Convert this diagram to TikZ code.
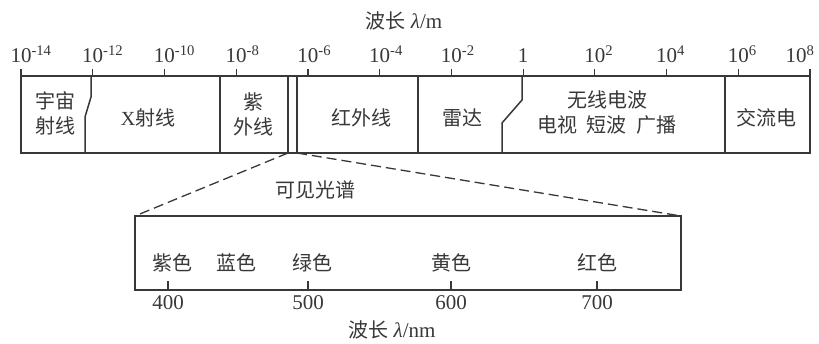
\documentclass[tikz,border=0pt]{standalone}
\usepackage{fontspec}
\setmainfont{Liberation Serif}
\newfontfamily\cjk{Noto Sans CJK SC}
\definecolor{ink}{gray}{0.22}
\begin{document}
\begin{tikzpicture}[x=1pt,y=-1pt,line width=1.4pt,color=ink,
  cn/.style={font=\cjk\fontsize{20}{25}\selectfont, inner sep=0pt, align=center, text=ink},
  num/.style={font=\fontsize{21}{24}\selectfont, inner sep=0pt, anchor=base, text=ink},
  bar/.style={draw=ink, line width=1.5pt},
  zoomline/.style={draw=ink, dash pattern=on 10pt off 5pt, line width=1.3pt},
  tick/.style={draw=ink, line width=1.2pt}]
\useasboundingbox (0,0) rectangle (819,344);
\fill[white] (0,0) rectangle (819,344);
% title
\node[num,anchor=center] (title) at (404,21) {{\cjk\fontsize{20}{24}\selectfont 波长} \textit{λ}/m};
% top bar
\coordinate (tl) at (21,76);
\coordinate (br) at (810,153);
\draw[bar] (tl) rectangle (br);
% ticks and labels
\foreach \i/\lab in {0/{10\rlap{\textsuperscript{-14}}},1/{10\rlap{\textsuperscript{-12}}},2/{10\rlap{\textsuperscript{-10}}},3/{10\rlap{\textsuperscript{-8}}},4/{10\rlap{\textsuperscript{-6}}},5/{10\rlap{\textsuperscript{-4}}},6/{10\rlap{\textsuperscript{-2}}},7/{1},8/{10\rlap{\textsuperscript{2}}},9/{10\rlap{\textsuperscript{4}}},10/{10\rlap{\textsuperscript{6}}}}{
  \draw[tick] (21+\i*71.73,76) -- (21+\i*71.73,69);
  \node[num] (t\i) at (21+\i*71.73,63) {\lab};
}
\draw[tick] (810,76) -- (810,69);
\node[num] (t11) at (796,63) {10\rlap{\textsuperscript{8}}};
% dividers
\draw[bar] (91,76) -- (91,97) -- (85,117) -- (85,153);
\draw[bar] (220,76) -- (220,153);
\coordinate (vl) at (288,153);
\coordinate (vr) at (297,153);
\draw[bar] (288,76) -- (vl);
\draw[bar] (297,76) -- (vr);
\draw[bar] (418,76) -- (418,153);
\draw[bar] (522,76) -- (522,100) -- (502,123) -- (502,153);
\draw[bar] (725,76) -- (725,153);
% band labels
\node[cn] (cosmic) at (55,113) {宇宙\\射线};
\node[cn] (xray) at (148,118) {{\fontspec{Liberation Serif}X}射线};
\node[cn] (uv) at (253,114) {紫\\外线};
\node[cn] (ir) at (361,118) {红外线};
\node[cn] (radar) at (462,118) {雷达};
\node[cn] (radio) at (607,112) {无线电波\\电视\hspace{0.5em}短波\hspace{0.5em}广播};
\node[cn] (ac) at (766,118) {交流电};
% visible spectrum box
\coordinate (bl) at (135,216);
\coordinate (bR) at (681,216);
\draw[bar] (bl) rectangle (681,290);
\draw[zoomline] (vl) -- (bl);
\draw[zoomline] (vr) -- (bR);
\node[cn] (vis) at (315,190) {可见光谱};
\node[cn] (c1) at (172,263) {紫色};
\node[cn] (c2) at (236,263) {蓝色};
\node[cn] (c3) at (312,263) {绿色};
\node[cn] (c4) at (451,263) {黄色};
\node[cn] (c5) at (597,263) {红色};
\foreach \x/\v in {168/400,308/500,451/600,597/700}{
  \draw[tick] (\x,290) -- (\x,281);
  \node[num] (n\v) at (\x,310) {\v};
}
\node[num,anchor=center] (xlab) at (392,330) {{\cjk\fontsize{20}{24}\selectfont 波长} \textit{λ}/nm};
\end{tikzpicture}
\end{document}
